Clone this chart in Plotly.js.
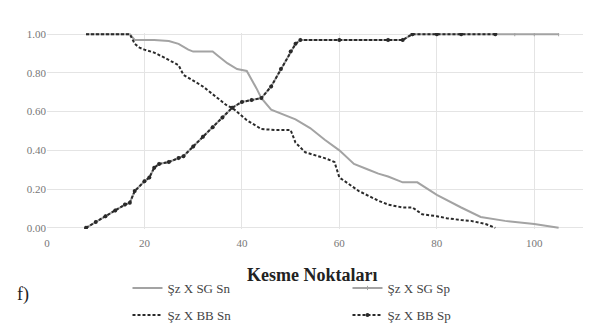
<!DOCTYPE html>
<html>
<head>
<meta charset="utf-8">
<script src="https://cdn.plot.ly/plotly-3.0.1.min.js"></script>
<style>html,body{margin:0;padding:0;background:#fff;}#chart{width:593px;height:323px;}</style>
</head>
<body>
<div id="chart"></div>
<script>
// Şz X SG Sn (gray, solid, decreasing)
const sgSnX = [8,10,12,14,16,17,18,20,22,25,27,29,30,32,34,35,37,39,41,43,44,46,48,51,54,57,60,63,66,68,70,73,76,80,85,89,94,100,105];
const sgSnY = [1,1,1,1,1,1,0.97,0.97,0.97,0.965,0.95,0.92,0.91,0.91,0.91,0.89,0.85,0.82,0.81,0.72,0.67,0.61,0.59,0.56,0.515,0.455,0.40,0.33,0.30,0.28,0.265,0.235,0.235,0.17,0.105,0.056,0.036,0.02,0.0];
// Şz X SG Sp (gray, markers, increasing)
const sgSpX = [8,10,12,14,16,17,18,20,21,22,23,25,27,28,30,32,34,36,38,40,42,44,46,48,50,51,52,60,70,73,75,80,85,92,96,100,105];
const sgSpY = [0,0.03,0.06,0.09,0.12,0.13,0.19,0.24,0.26,0.31,0.33,0.34,0.36,0.37,0.42,0.47,0.52,0.57,0.62,0.65,0.66,0.67,0.73,0.82,0.91,0.95,0.97,0.97,0.97,0.97,1,1,1,1,1,1,1];
// Şz X BB Sn (black dashed, decreasing)
const bbSnX = [8,10,12,14,16,17,18,19,20,22,24,27,28,30,32,34,35,37,38,40,41,44,47,50,51,53,55,57,59,60,62,64,66,68,70,73,75,77,80,82,85,87,90,92];
const bbSnY = [1,1,1,1,1,1,0.95,0.93,0.92,0.905,0.88,0.84,0.79,0.76,0.73,0.69,0.67,0.63,0.62,0.58,0.556,0.51,0.505,0.505,0.44,0.39,0.375,0.36,0.34,0.26,0.225,0.19,0.165,0.14,0.12,0.105,0.105,0.07,0.06,0.05,0.04,0.036,0.02,0.0];
// Şz X BB Sp (black dashed with markers, increasing)
const bbSpX = [8,10,12,14,16,17,18,20,21,22,23,25,27,28,30,32,34,36,38,40,42,44,46,48,50,51,52,60,70,73,75,80,85,92];
const bbSpY = [0,0.03,0.06,0.09,0.12,0.13,0.19,0.24,0.26,0.31,0.33,0.34,0.36,0.37,0.42,0.47,0.52,0.57,0.62,0.65,0.66,0.67,0.73,0.82,0.91,0.95,0.97,0.97,0.97,0.97,1,1,1,1];

const xTicks = [0,20,40,60,80,100];
const yTicks = [0,0.2,0.4,0.6,0.8,1.0];
const yTickText = ['0.00','0.20','0.40','0.60','0.80','1.00'];
const names = ['Şz X SG Sn','Şz X SG Sp','Şz X BB Sn','Şz X BB Sp'];
const xTitle = 'Kesme Noktaları';

const gray = '#a3a3a3';
const dark = '#2a2a2a';
const serif = 'Liberation Serif, Times New Roman, serif';

const traces = [
  {x: sgSnX, y: sgSnY, name: names[0], legend: 'legend', mode: 'lines', line: {color: gray, width: 2}},
  {x: sgSpX, y: sgSpY, name: names[1], legend: 'legend', mode: 'lines+markers', line: {color: gray, width: 2}, marker: {color: gray, size: 3, symbol: 'line-ns-open', line:{color:gray,width:1}}},
  {x: bbSnX, y: bbSnY, name: names[2], legend: 'legend2', mode: 'lines', line: {color: dark, width: 2, dash: '3px,2px'}},
  {x: bbSpX, y: bbSpY, name: names[3], legend: 'legend2', mode: 'lines+markers', line: {color: dark, width: 2, dash: '3px,2px'}, marker: {color: dark, size: 4}}
];

const legendBase = {
  orientation: 'h', xref: 'container', yref: 'container', x: 0.215, xanchor: 'left', yanchor: 'middle',
  entrywidth: 175, entrywidthmode: 'pixels', itemwidth: 30,
  font: {family: serif, size: 13, color: '#444'}, bgcolor: 'rgba(0,0,0,0)'
};

const layout = {
  width: 593, height: 323,
  margin: {l: 47, r: 10, t: 33, b: 94, autoexpand: false},
  paper_bgcolor: '#fff', plot_bgcolor: '#fff',
  showlegend: true,
  xaxis: {
    range: [0, 110], tickvals: xTicks, showgrid: true, gridcolor: '#e4e4e4', gridwidth: 1,
    zeroline: false, showline: false, ticks: '', ticklabelstandoff: 6,
    tickfont: {family: serif, size: 11, color: '#777'}
  },
  yaxis: {
    range: [-0.006, 1.006], tickvals: yTicks, ticktext: yTickText, showgrid: true, gridcolor: '#e4e4e4',
    zeroline: false, showline: false, ticks: '',
    tickfont: {family: serif, size: 11, color: '#777'}
  },
  legend: Object.assign({}, legendBase, {y: 1 - 288/323}),
  legend2: Object.assign({}, legendBase, {y: 1 - 315/323}),
  annotations: [
    {text: '<b>' + xTitle + '</b>', xref: 'paper', yref: 'paper', x: 0.495, y: -0.235, xanchor: 'center', yanchor: 'middle', showarrow: false,
     font: {family: serif, size: 18, color: '#222'}},
    {text: 'f)', xref: 'paper', yref: 'paper', x: -0.06, y: -0.332, xanchor: 'left', yanchor: 'middle', showarrow: false,
     font: {family: serif, size: 18, color: '#222'}}
  ]
};

Plotly.newPlot('chart', traces, layout, {displayModeBar: false, staticPlot: true});
</script>
</body>
</html>
